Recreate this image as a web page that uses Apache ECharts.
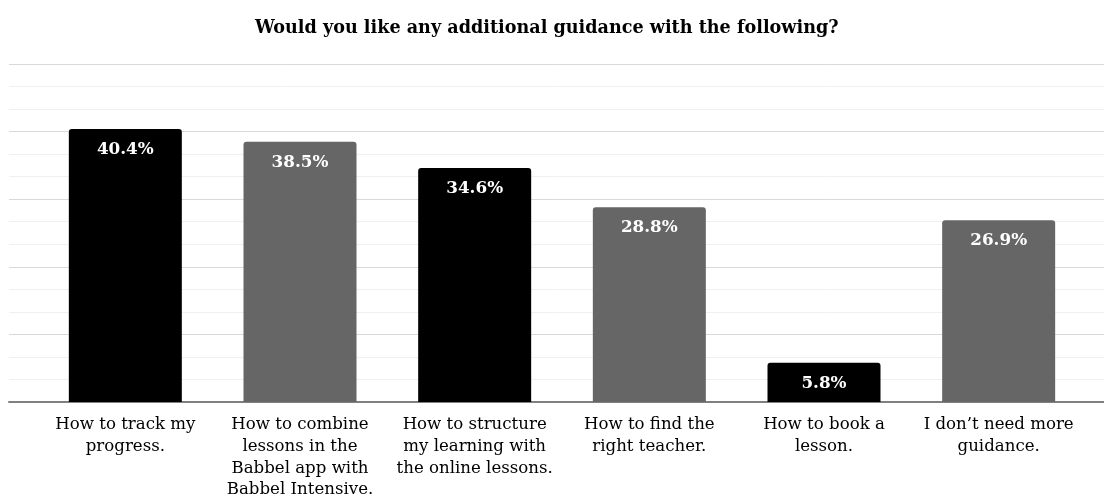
<!DOCTYPE html>
<html>
<head>
<meta charset="utf-8">
<script src="https://cdn.jsdelivr.net/npm/echarts@6/dist/echarts.min.js"></script>
<style>
  html, body { margin: 0; padding: 0; background: #ffffff; }
  #chart { width: 1104px; height: 501px; }
</style>
</head>
<body>
<div id="chart"></div>
<script>
// Survey answers (share of respondents, %)
const categories = [
  'How to track my\nprogress.',
  'How to combine\nlessons in the\nBabbel app with\nBabbel Intensive.',
  'How to structure\nmy learning with\nthe online lessons.',
  'How to find the\nright teacher.',
  'How to book a\nlesson.',
  'I don\u2019t need more\nguidance.'
];
const values = [40.4, 38.5, 34.6, 28.8, 5.8, 26.9];
const barColors = ['#000000', '#666666', '#000000', '#666666', '#000000', '#666666'];
const titleText = 'Would you like any additional guidance with the following?';

const serif = '"DejaVu Serif", "Liberation Serif", serif';
const TOP = 64, BOTTOM = 99;

const chart = echarts.init(document.getElementById('chart'), null, { renderer: 'canvas' });

chart.setOption({
  animation: false,
  backgroundColor: '#ffffff',
  title: {
    text: titleText,
    left: 250,
    top: 14,
    textStyle: { fontFamily: serif, fontWeight: 'bold', fontSize: 17.6, color: '#000000' }
  },
  grid: [
    // full-width backdrop carrying the gridlines and the baseline
    { left: 9, right: 0, top: TOP, bottom: BOTTOM, containLabel: false, outerBoundsMode: 'none' },
    // the bars and their category labels
    { left: 38, width: 1048, top: TOP, bottom: BOTTOM, containLabel: false, outerBoundsMode: 'none' }
  ],
  xAxis: [
    {
      gridIndex: 0, type: 'category', data: [''],
      axisLine: { show: true, lineStyle: { color: '#808080', width: 2 } },
      axisTick: { show: false }, axisLabel: { show: false }, splitLine: { show: false }
    },
    {
      gridIndex: 1, type: 'category', data: categories,
      axisLine: { show: false }, axisTick: { show: false },
      axisLabel: {
        interval: 0, margin: 12, lineHeight: 21.7,
        fontFamily: serif, fontSize: 16.6, color: '#000000', align: 'center'
      }
    }
  ],
  yAxis: [
    {
      gridIndex: 0, type: 'value', min: 0, max: 50, interval: 10,
      axisLine: { show: false }, axisTick: { show: false }, axisLabel: { show: false },
      splitLine: { show: true, lineStyle: { color: '#d9d9d9', width: 1 } },
      minorTick: { show: false, splitNumber: 3 },
      minorSplitLine: { show: true, lineStyle: { color: '#f0f0f0', width: 1 } }
    },
    {
      gridIndex: 1, type: 'value', min: 0, max: 50, interval: 10,
      axisLine: { show: false }, axisTick: { show: false }, axisLabel: { show: false },
      splitLine: { show: false }
    }
  ],
  series: [
    {
      type: 'bar',
      xAxisIndex: 1, yAxisIndex: 1,
      data: values.map((v, i) => ({ value: v, itemStyle: { color: barColors[i] } })),
      barWidth: 113,
      itemStyle: { borderRadius: [3, 3, 0, 0] },
      label: {
        show: true, position: 'insideTop', distance: 12,
        formatter: p => p.value.toFixed(1) + '%',
        fontFamily: serif, fontWeight: 'bold', fontSize: 16.8, color: '#ffffff'
      }
    }
  ]
});
</script>
</body>
</html>
